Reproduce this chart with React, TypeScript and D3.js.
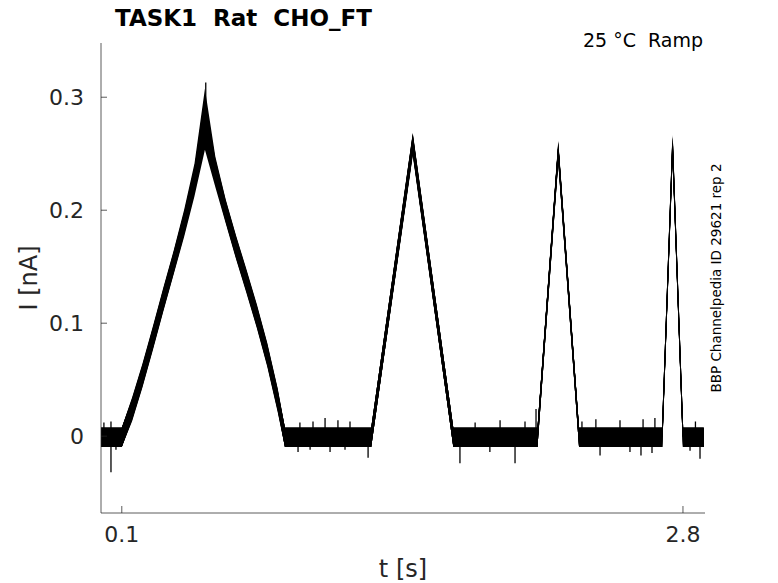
import * as d3 from 'd3';

// sample times of the ramp protocol break points [s]
const sweepTimes = [0, 0.1, 0.15, 0.2, 0.25, 0.3, 0.35, 0.4, 0.45, 0.5, 0.55, 0.6, 0.65, 0.7, 0.75, 0.8, 0.85, 0.885, 1.3, 1.5, 1.695, 2.1, 2.2, 2.3, 2.7, 2.75, 2.8, 2.9];

// current of each repetition at those times [nA]
const rep1 = [0, 0, 0.027, 0.057, 0.090, 0.124, 0.157, 0.193, 0.234, 0.300, 0.240, 0.202, 0.170, 0.140, 0.109, 0.075, 0.035, 0, 0, 0.261, 0, 0, 0.254, 0, 0, 0.259, 0, 0];
const rep2 = [0, 0, 0.026, 0.056, 0.089, 0.123, 0.156, 0.191, 0.231, 0.290, 0.238, 0.201, 0.169, 0.139, 0.108, 0.074, 0.034, 0, 0, 0.260, 0, 0, 0.253, 0, 0, 0.258, 0, 0];
const rep3 = [0, 0, 0.025, 0.055, 0.088, 0.122, 0.155, 0.190, 0.228, 0.280, 0.236, 0.200, 0.168, 0.138, 0.107, 0.073, 0.033, 0, 0, 0.260, 0, 0, 0.252, 0, 0, 0.257, 0, 0];
const rep4 = [0, 0, 0.024, 0.054, 0.087, 0.121, 0.154, 0.188, 0.225, 0.271, 0.233, 0.199, 0.167, 0.137, 0.106, 0.072, 0.032, 0, 0, 0.259, 0, 0, 0.252, 0, 0, 0.257, 0, 0];
const rep5 = [0, 0, 0.023, 0.053, 0.086, 0.120, 0.153, 0.186, 0.222, 0.263, 0.230, 0.198, 0.166, 0.136, 0.105, 0.071, 0.031, 0, 0, 0.258, 0, 0, 0.251, 0, 0, 0.256, 0, 0];
const reps = [rep1, rep2, rep3, rep4, rep5];

// recording noise band around each trace [nA]
const noiseLow = -0.0095;
const noiseHigh = 0.0075;

// single noise spikes visible in the traces: time, lower and upper end [nA]
const spikeT = [0.014, 0.048, 0.072, 0.504, 0.948, 0.957, 1.006, 1.02, 1.078, 1.102, 1.14, 1.174, 1.198, 1.285,
  1.727, 1.8, 1.871, 1.92, 1.992, 2.04, 2.093, 2.314, 2.381, 2.401, 2.497, 2.545, 2.598, 2.608, 2.651, 2.665, 2.834, 2.86, 2.882];
const spikeLo = [0, -0.032, -0.012, 0.28, -0.014, 0, -0.012, 0, 0, -0.014, 0, -0.012, 0, -0.019,
  -0.024, 0, -0.014, 0, -0.024, 0, 0, 0, 0, -0.017, 0, -0.014, -0.017, 0, -0.015, 0, -0.013, 0, -0.02];
const spikeHi = [0.012, 0.013, 0, 0.313, 0, 0.012, 0, 0.013, 0.016, 0, 0.014, 0, 0.013, 0,
  0, 0.012, 0, 0.014, 0, 0.013, 0.024, 0.013, 0.015, 0, 0.014, 0, 0, 0.015, 0, 0.016, 0, 0.013, 0];

const xTicks = [0.1, 2.8];
const yTicks = [0, 0.1, 0.2, 0.3];

const W = 778;
const H = 583;
const left = 101, right = 705, top = 43, bottom = 513;
const axisColor = '#262626';
const font = '"DejaVu Sans", Verdana, sans-serif';

export default function App() {
  const x = d3.scaleLinear().domain([0, 2.906]).range([left, right]);
  const y = d3.scaleLinear().domain([-0.068, 0.348]).range([bottom, top]);

  const pts = (rep: number[]) => sweepTimes.map((t, i) => [t, rep[i]] as [number, number]);

  const band = d3.area<[number, number]>()
    .x(d => x(d[0]))
    .y0(d => y(d[1] + noiseLow))
    .y1(d => y(d[1] + noiseHigh));

  const line = d3.line<[number, number]>()
    .x(d => x(d[0]))
    .y(d => y(d[1]));

  return (
    <svg width={W} height={H} style={{ position: 'absolute', left: 0, top: 0, background: '#fff' }}>
      {/* traces */}
      <g>
        {reps.map((r, i) => (
          <g key={i}>
            <path d={band(pts(r)) || ''} fill="#000" />
            <path d={line(pts(r)) || ''} fill="none" stroke="#000" strokeWidth={1} />
          </g>
        ))}
        {spikeT.map((t, i) => (
          <line key={i} x1={x(t)} x2={x(t)} y1={y(spikeLo[i])} y2={y(spikeHi[i])} stroke="#000" strokeWidth={1.3} />
        ))}
      </g>

      {/* axes */}
      <line x1={left} x2={left} y1={top} y2={bottom} stroke={axisColor} strokeOpacity={0.75} />
      <line x1={left} x2={right} y1={bottom} y2={bottom} stroke={axisColor} strokeOpacity={0.75} />
      {yTicks.map(v => (
        <g key={v}>
          <line x1={left} x2={left + 6} y1={y(v)} y2={y(v)} stroke={axisColor} strokeOpacity={0.75} />
          <text x={84} y={y(v)} dy="0.36em" textAnchor="end" fontFamily={font} fontSize={22} fill={axisColor}>
            {v === 0 ? '0' : d3.format('.1f')(v)}
          </text>
        </g>
      ))}
      {xTicks.map(v => (
        <g key={v}>
          <line x1={x(v)} x2={x(v)} y1={bottom} y2={bottom - 7} stroke={axisColor} strokeOpacity={0.75} />
          <text x={x(v)} y={542} textAnchor="middle" fontFamily={font} fontSize={22} fill={axisColor}>
            {d3.format('.1f')(v)}
          </text>
        </g>
      ))}

      {/* labels */}
      <text x={403} y={577} textAnchor="middle" fontFamily={font} fontSize={24} fill={axisColor}>t [s]</text>
      <text transform="translate(37,278) rotate(-90)" textAnchor="middle" fontFamily={font} fontSize={24} fill={axisColor}>I [nA]</text>
      <text x={115} y={26} fontFamily={font} fontSize={23} fontWeight="bold" fill="#000" style={{ whiteSpace: 'pre' }}>{'TASK1  Rat  CHO_FT'}</text>
      <text x={703} y={47} textAnchor="end" fontFamily={font} fontSize={19} fill="#000" style={{ whiteSpace: 'pre' }}>{'25 °C  Ramp'}</text>
      <text transform="translate(721,278) rotate(-90)" textAnchor="middle" fontFamily={font} fontSize={13.5} fill="#000">BBP Channelpedia ID 29621 rep 2</text>
    </svg>
  );
}
